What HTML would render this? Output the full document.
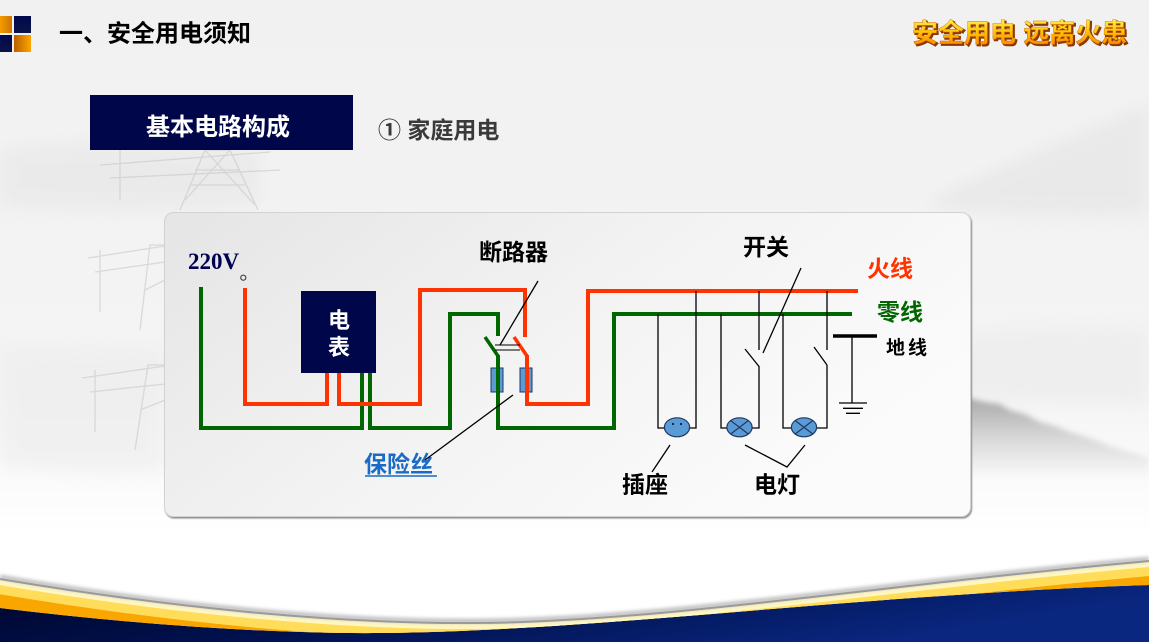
<!DOCTYPE html>
<html><head><meta charset="utf-8">
<style>
html,body{margin:0;padding:0;}
body{width:1149px;height:642px;overflow:hidden;background:#f2f2f2;}
svg{display:block;}
text{font-family:"Liberation Sans","Noto Sans CJK SC",sans-serif;}
</style></head><body>
<svg width="1149" height="642" viewBox="0 0 1149 642" xmlns="http://www.w3.org/2000/svg">
<defs>
 <linearGradient id="bg" x1="0" y1="0" x2="0" y2="1">
  <stop offset="0" stop-color="#f1f1f1"/>
  <stop offset="0.6" stop-color="#f4f4f4"/>
  <stop offset="0.78" stop-color="#fcfcfc"/>
  <stop offset="0.83" stop-color="#ffffff"/>
 </linearGradient>
 <linearGradient id="card" x1="0" y1="0" x2="1" y2="0.5">
  <stop offset="0" stop-color="#e5e5e5"/>
  <stop offset="0.55" stop-color="#f3f3f3"/>
  <stop offset="1" stop-color="#fbfbfb"/>
 </linearGradient>
 <linearGradient id="navy" x1="0" y1="0" x2="1" y2="0.3">
  <stop offset="0" stop-color="#00062c"/>
  <stop offset="0.5" stop-color="#001250"/>
  <stop offset="1" stop-color="#0a2780"/>
 </linearGradient>
 <linearGradient id="slog" x1="0" y1="0" x2="0" y2="1">
  <stop offset="0" stop-color="#fff35a"/>
  <stop offset="0.5" stop-color="#ffc000"/>
  <stop offset="1" stop-color="#ff7a00"/>
 </linearGradient>
 <linearGradient id="sqA" x1="0" y1="0" x2="1" y2="0">
  <stop offset="0" stop-color="#f59c00"/>
  <stop offset="1" stop-color="#cf7400"/>
 </linearGradient>
 <linearGradient id="sqB" x1="0" y1="0" x2="1" y2="0">
  <stop offset="0" stop-color="#b86000"/>
  <stop offset="1" stop-color="#ffa600"/>
 </linearGradient>
 <linearGradient id="sqN" x1="0" y1="0" x2="0" y2="1">
  <stop offset="0" stop-color="#000850"/>
  <stop offset="1" stop-color="#0a1446"/>
 </linearGradient>
 <linearGradient id="mtn" x1="0" y1="0" x2="0" y2="1">
  <stop offset="0" stop-color="#a9a9a9"/>
  <stop offset="0.5" stop-color="#d8d8d8"/>
  <stop offset="1" stop-color="#fafafa"/>
 </linearGradient>
 <filter id="b8" x="-30%" y="-80%" width="160%" height="260%"><feGaussianBlur stdDeviation="8"/></filter>
 <filter id="b3" x="-20%" y="-50%" width="140%" height="200%"><feGaussianBlur stdDeviation="3"/></filter>
 <filter id="b1" x="-5%" y="-50%" width="110%" height="200%"><feGaussianBlur stdDeviation="1.6"/></filter>
 <filter id="cs" x="-5%" y="-5%" width="110%" height="110%"><feDropShadow dx="1" dy="1.5" stdDeviation="0.8" flood-color="#8a8a8a"/></filter>
 <clipPath id="band"><path d="M0,579 C160,606 330,624 476,623 C660,622 880,585 1149,561 L1149,585 C850,595 600,631 381,633 C270,634 130,624 0,608 Z"/></clipPath>
</defs>

<!-- background -->
<rect width="1149" height="642" fill="url(#bg)"/>
<!-- left haze & towers -->
<path d="M0,150 C60,140 150,140 260,150 L260,205 C160,215 60,212 0,205 Z" fill="#e6e6e6" filter="url(#b8)" opacity="0.6"/>
<path d="M0,350 C60,345 120,345 165,350 L165,470 C100,475 40,470 0,465 Z" fill="#ececec" filter="url(#b8)" opacity="0.6"/>
<g stroke="#c4c4c4" stroke-width="1.3" fill="none" opacity="0.55">
 <path d="M120,150 V200 M100,165 L270,152 M110,178 L280,170"/>
 <path d="M180,210 L205,150 L230,150 L258,210 M190,185 L245,185 M185,200 L230,150 M205,150 L255,205 M195,170 L240,170"/>
 <path d="M100,250 V312 M88,258 L165,246 M95,272 L165,262 M140,330 L150,245 L165,245 M145,290 L165,280"/>
 <path d="M95,370 V432 M82,378 L165,366 M90,392 L165,384 M135,450 L148,365 L165,365 M140,410 L165,400"/>
</g>
<!-- right mountains -->
<path d="M930,200 C990,170 1060,140 1149,105 L1149,215 C1080,218 1000,216 930,208 Z" fill="#e6e6e6" filter="url(#b8)" opacity="0.7"/>
<path d="M960,335 C1040,325 1100,325 1149,330 L1149,405 L960,400 Z" fill="#ededed" filter="url(#b8)" opacity="0.8"/>
<path d="M968,398 L985,402 L1000,404 L1010,410 L1025,414 L1040,422 L1055,426 L1070,432 L1090,438 L1110,446 L1130,452 L1149,458 L1149,478 L968,478 Z" fill="url(#mtn)" filter="url(#b3)"/>

<!-- header squares -->
<rect x="0" y="16" width="12" height="17" fill="url(#sqA)"/>
<rect x="14" y="16" width="17" height="17" fill="url(#sqN)"/>
<rect x="0" y="35" width="12" height="17" fill="url(#sqN)"/>
<rect x="14" y="35" width="17" height="17" fill="url(#sqB)"/>

<text x="59" y="41.5" font-size="24" font-weight="bold" fill="#000">一、安全用电须知</text>

<!-- slogan -->
<text x="913.5" y="43.5" font-size="26" font-weight="bold" fill="#8a3800" stroke="#8a3800" stroke-width="1.2">安全用电 远离火患</text>
<text x="912" y="42" font-size="26" font-weight="bold" fill="url(#slog)" stroke="#d06a00" stroke-width="0.4">安全用电 远离火患</text>

<!-- section box -->
<rect x="90" y="95" width="263" height="55" fill="#00064a"/>
<text x="218" y="135" font-size="24" font-weight="bold" fill="#ffffff" text-anchor="middle">基本电路构成</text>
<text x="378" y="138" font-size="23" font-weight="bold" fill="#3a3a3a">① 家庭用电</text>

<!-- card -->
<rect x="164.5" y="212.5" width="806" height="304" rx="9" fill="url(#card)" stroke="#d2d2d2" stroke-width="1" filter="url(#cs)"/>

<!-- diagram labels -->
<text x="188" y="269" font-size="23" font-weight="bold" fill="#000050" style="font-family:'Liberation Serif',serif">220V</text>
<circle cx="243.3" cy="277.7" r="2.6" fill="none" stroke="#333" stroke-width="1"/>
<text x="479" y="260" font-size="23" font-weight="bold" fill="#000">断路器</text>
<text x="743" y="255" font-size="23" font-weight="bold" fill="#000">开关</text>
<text x="867" y="276.5" font-size="23" font-weight="bold" fill="#ff3300">火线</text>
<text x="877" y="320" font-size="23" font-weight="bold" fill="#006600">零线</text>
<text x="886" y="354" font-size="19" font-weight="bold" fill="#000" letter-spacing="3">地线</text>
<text x="364" y="472" font-size="23" font-weight="bold" fill="#1a6bc4">保险丝</text>
<line x1="365" y1="476" x2="437" y2="476" stroke="#1a6bc4" stroke-width="1.5"/>
<text x="622" y="492.5" font-size="23" font-weight="bold" fill="#000">插座</text>
<text x="754" y="492.5" font-size="23" font-weight="bold" fill="#000">电灯</text>

<!-- meter -->
<rect x="301" y="291" width="75" height="82" fill="#00064a"/>
<text x="339" y="328" font-size="22" font-weight="bold" fill="#ffffff" text-anchor="middle">电</text>
<text x="339" y="355" font-size="22" font-weight="bold" fill="#ffffff" text-anchor="middle">表</text>

<!-- fuses -->
<rect x="491" y="368" width="12" height="24" fill="#5b9bd5" stroke="#1f3864" stroke-width="1"/>
<rect x="520" y="368" width="12" height="24" fill="#5b9bd5" stroke="#1f3864" stroke-width="1"/>

<!-- main wires -->
<g fill="none" stroke-width="4" stroke-linejoin="miter">
 <path d="M201,287 V428 H362 V373" stroke="#006600"/>
 <path d="M370,373 V428 H450 V314 H498 V336" stroke="#006600"/>
 <path d="M498,355 V428 H614 V314 H852" stroke="#006600"/>
 <path d="M245,288 V404 H327 V373" stroke="#ff3300"/>
 <path d="M339,373 V404 H420 V290 H525 V337" stroke="#ff3300"/>
 <path d="M527,355 V404 H588 V291 H858" stroke="#ff3300"/>
</g>
<!-- breaker blades -->
<line x1="485" y1="337" x2="498" y2="356" stroke="#006600" stroke-width="3.5"/>
<line x1="514" y1="337" x2="527" y2="356" stroke="#ff3300" stroke-width="3.5"/>
<line x1="495" y1="345" x2="520" y2="345" stroke="#000" stroke-width="1"/>
<line x1="495" y1="350" x2="520" y2="350" stroke="#000" stroke-width="1"/>

<!-- thin branch circuits -->
<g fill="none" stroke="#000" stroke-width="1.3">
 <path d="M658,314 V428 H664"/>
 <path d="M689,428 H696 V291"/>
 <path d="M721,314 V428 H727"/>
 <path d="M752,428 H759 V366"/>
 <path d="M759,291 V350"/>
 <path d="M745,349 L759,366.5"/>
 <path d="M783,314 V428 H791"/>
 <path d="M817,428 H827 V365"/>
 <path d="M827,291 V350"/>
 <path d="M814,347 L827,365"/>
 <!-- ground -->
 <path d="M852,336 V403"/>
 <path d="M839,403 H867 M843,408.3 H863 M846,413.3 H860"/>
 <!-- leader lines -->
 <path d="M538,281 L500,345"/>
 <path d="M513,395 L425,460"/>
 <path d="M801,268 L763,353"/>
 <path d="M670,445 L652,472"/>
 <path d="M745,445 L787,467 L805,445"/>
</g>
<line x1="833" y1="336" x2="877" y2="336" stroke="#000" stroke-width="3.5"/>

<!-- socket & lamps -->
<ellipse cx="677" cy="427.3" rx="12.6" ry="9.5" fill="#5b9bd5" stroke="#1f3864" stroke-width="1.2"/>
<circle cx="673" cy="424" r="1.1" fill="#0a1a40"/>
<circle cx="681" cy="424" r="1.1" fill="#0a1a40"/>
<g stroke="#1f3864" stroke-width="1.2">
 <ellipse cx="739.5" cy="427.3" rx="12.6" ry="9.5" fill="#5b9bd5"/>
 <line x1="730.7" y1="420.6" x2="748.3" y2="434"/>
 <line x1="730.7" y1="434" x2="748.3" y2="420.6"/>
 <ellipse cx="804" cy="427.3" rx="12.6" ry="9.5" fill="#5b9bd5"/>
 <line x1="795.2" y1="420.6" x2="812.8" y2="434"/>
 <line x1="795.2" y1="434" x2="812.8" y2="420.6"/>
</g>

<!-- bottom wave -->
<path d="M0,608 C130,624 270,634 381,633 C600,631 850,595 1149,585 L1149,642 L0,642 Z" fill="url(#navy)"/>
<g clip-path="url(#band)">
 <rect x="0" y="540" width="1149" height="102" fill="#f9a600"/>
 <path d="M0,579 C160,606 330,624 476,623 C660,622 880,585 1149,561" fill="none" stroke="#ffdc5a" stroke-width="30"/>
 <path d="M0,579 C160,606 330,624 476,623 C660,622 880,585 1149,561" fill="none" stroke="#fff6c0" stroke-width="12"/>
</g>
<path d="M0,577 C160,604 330,622 476,621 C660,620 880,583 1149,559" fill="none" stroke="#c4c4c4" stroke-width="5" filter="url(#b1)"/>
<path d="M0,579 C160,606 330,624 476,623 C660,622 880,585 1149,561" fill="none" stroke="#9a9a9a" stroke-width="2"/>
</svg>
</body></html>
